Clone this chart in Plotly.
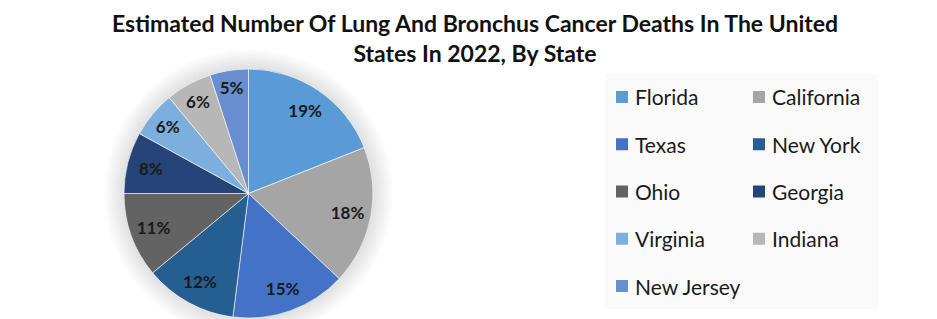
import plotly.graph_objects as go

states = ["Florida", "California", "Texas", "New York", "Ohio",
          "Georgia", "Virginia", "Indiana", "New Jersey"]
shares = [19, 18, 15, 12, 11, 8, 6, 6, 5]
colors = ["#5B9BD5", "#A5A5A5", "#4472C4", "#255E91", "#636363",
          "#264478", "#7CAFDD", "#B7B7B7", "#698ED0"]
title_text = ("Estimated Number Of Lung And Bronchus Cancer Deaths In The United"
              "<br>States In 2022, By State")

W, H = 937, 319
cx, cy, rad = 248.5, 193.5, 124.5  # pie centre / radius in pixels


def px(x):
    return x / W


def py(y):
    return 1 - y / H


dom = dict(x=[px(cx - rad), px(cx + rad)], y=[py(cy + rad), py(cy - rad)])

fig = go.Figure()
# filled pie (no text)
fig.add_trace(go.Pie(
    labels=states,
    values=shares,
    sort=False,
    direction="clockwise",
    rotation=0,
    marker=dict(colors=colors, line=dict(color="rgba(255,255,255,0.6)", width=1)),
    textinfo="none",
    domain=dom,
    showlegend=False,
    hoverinfo="label+percent",
))
# transparent ring carrying the percentage labels near the rim
fig.add_trace(go.Pie(
    labels=states,
    values=shares,
    sort=False,
    direction="clockwise",
    rotation=0,
    hole=0.62,
    marker=dict(colors=["rgba(0,0,0,0)"] * len(states), line=dict(width=0)),
    texttemplate="%{percent:.0%}",
    textposition="inside",
    insidetextorientation="horizontal",
    textfont=dict(family="Lato", size=17, color="#1a1a1a", weight="bold"),
    domain=dom,
    showlegend=False,
    hoverinfo="skip",
))

shapes = []
# soft shadow around the pie
for k in range(10, 0, -1):
    rr = rad + 2 * k
    shapes.append(dict(type="circle", xref="paper", yref="paper",
                       x0=px(cx - rr), x1=px(cx + rr), y0=py(cy + rr), y1=py(cy - rr),
                       fillcolor="rgba(0,0,0,0.012)", line=dict(width=0), layer="below"))

# legend box
lg_left, lg_right, lg_top, lg_bottom = 605, 878, 74, 309
shapes.append(dict(type="rect", xref="paper", yref="paper",
                   x0=px(lg_left), x1=px(lg_right), y0=py(lg_bottom), y1=py(lg_top),
                   fillcolor="#fafafa", line=dict(width=0), layer="below"))

annotations = []
col_x = [616, 753]
row0, row_step, sw = 97, 47.25, 12
for i, (name, col) in enumerate(zip(states, colors)):
    x = col_x[i % 2]
    y = row0 + (i // 2) * row_step
    shapes.append(dict(type="rect", xref="paper", yref="paper",
                       x0=px(x), x1=px(x + sw), y0=py(y + sw / 2), y1=py(y - sw / 2),
                       fillcolor=col, line=dict(width=0)))
    annotations.append(dict(text=name, xref="paper", yref="paper",
                            x=px(x + 17), y=py(y), xanchor="left", yanchor="middle",
                            showarrow=False,
                            font=dict(family="Lato", size=21, color="#1a1a1a")))

fig.update_layout(
    width=W, height=H,
    margin=dict(l=0, r=0, t=0, b=0),
    paper_bgcolor="white",
    plot_bgcolor="white",
    title=dict(text=title_text, x=475 / W, xanchor="center",
               yref="container", y=0.90, yanchor="top",
               font=dict(family="Lato", size=23, color="#111111", weight="bold")),
    shapes=shapes,
    annotations=annotations,
)

fig.write_html("out.html")
